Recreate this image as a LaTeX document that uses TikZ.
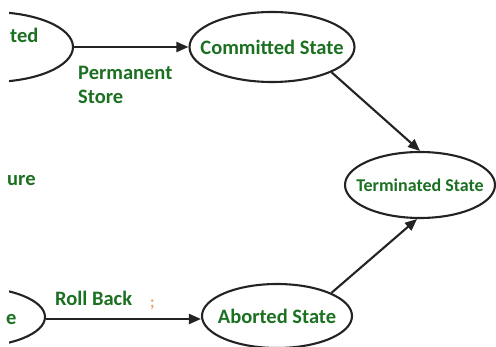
\documentclass[tikz,border=0pt]{standalone}
\usepackage{fontspec}
\setmainfont{Carlito}
\usetikzlibrary{shapes.geometric,arrows.meta}
\definecolor{lbl}{RGB}{28,112,34}
\definecolor{edge}{RGB}{35,35,35}
\definecolor{dotc}{RGB}{236,150,100}
\newcommand{\ctext}[1]{\makebox[0pt][c]{#1}}
\tikzset{
  state/.style={ellipse,draw=edge,line width=2.1pt,inner sep=0pt,text=lbl,
    font=\bfseries\fontsize{20.5}{24}\selectfont},
  lbltext/.style={text=lbl,inner sep=0pt,font=\bfseries\fontsize{20.5}{24}\selectfont},
  conn/.style={draw=edge,line width=2.1pt,-{Triangle[length=12pt,width=10pt]}}
}
\begin{document}
\begin{tikzpicture}[x=1pt,y=-1pt]
\useasboundingbox (0,0) rectangle (496,347);
\begin{scope}
  \clip (9,0) rectangle (496,347);
  \node[state,minimum width=165pt,minimum height=70pt] (pc) at (-9.5,47) {};
  \node[state,minimum width=150pt,minimum height=60pt] (failed) at (-30,317) {};
\end{scope}
\node[state,minimum width=165pt,minimum height=70pt] (committed) at (272,47) {\ctext{Committed State}};
\node[state,minimum width=150pt,minimum height=66pt,font=\bfseries\fontsize{18}{22}\selectfont] (terminated) at (420,185) {\ctext{Terminated State}};
\node[state,minimum width=150pt,minimum height=64pt] (aborted) at (277,316) {\raisebox{-4pt}{\ctext{Aborted State}}};

\node[lbltext,anchor=base west] (ted) at (10,43) {ted};
\node[lbltext,anchor=base west] (ure) at (7,186) {ure};
\node[lbltext,anchor=base west] (e) at (6,325) {e};

\node[lbltext,anchor=base west] (perm) at (78,80) {Permanent};
\node[lbltext,anchor=base west] (store) at (78,104) {Store};
\node[lbltext,anchor=base west] (roll) at (55,306) {Roll Back};
\node[text=dotc,inner sep=0pt,anchor=base west,font=\bfseries\fontsize{16}{18}\selectfont] (mark) at (150,308) {;};

\draw[conn] (pc) -- (committed);
\draw[conn] (failed.east |- 0,319) -- (aborted.west |- 0,319);
\draw[conn] (committed.-23) -- (terminated.north);
\draw[conn] (aborted.23) -- (terminated.-95);
\end{tikzpicture}
\end{document}
